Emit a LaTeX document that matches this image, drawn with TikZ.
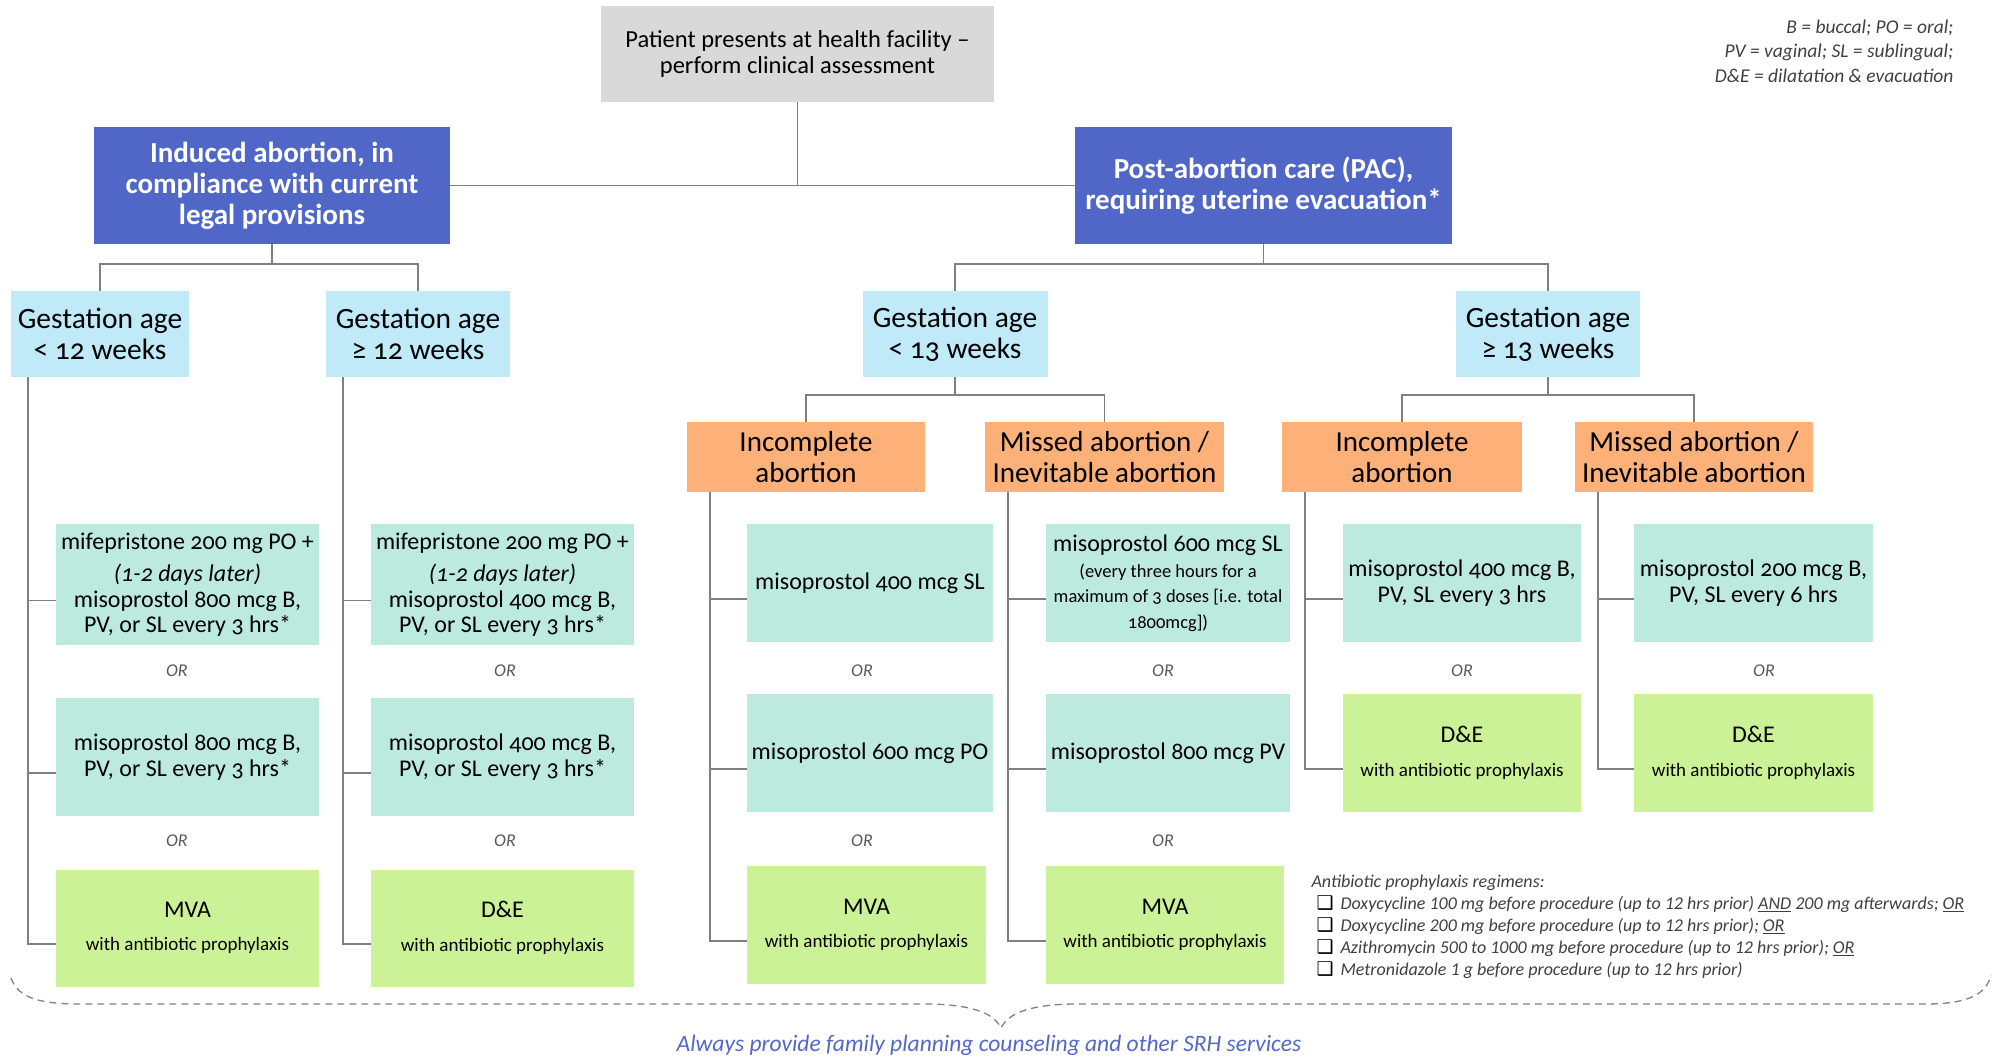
\documentclass[tikz,border=0pt]{standalone}
\usepackage{fontspec}
\setmainfont{Carlito}[Numbers=OldStyle]
\newfontfamily\notefont{Carlito}
\newfontfamily\symfont{DejaVu Sans}
\usetikzlibrary{positioning}

\definecolor{boxgray}{RGB}{217,217,217}
\definecolor{boxblue}{RGB}{80,103,200}
\definecolor{ageblue}{RGB}{192,234,248}
\definecolor{typeorange}{RGB}{253,177,121}
\definecolor{drugteal}{RGB}{189,234,222}
\definecolor{surggreen}{RGB}{204,242,152}
\definecolor{linegray}{RGB}{128,128,128}
\definecolor{orgray}{RGB}{89,89,89}
\definecolor{notegray}{RGB}{64,64,64}
\definecolor{footblue}{RGB}{82,104,200}

\newcommand{\prophy}{{\fontsize{19}{21}\selectfont with antibiotic prophylaxis}}
\newcommand{\smallnote}{\fontsize{18.5}{20.5}\selectfont}
\newcommand{\abx}{\makebox[29pt][l]{\hspace{5pt}{\symfont\fontsize{19}{19}\selectfont\color{black}❑}}}

\begin{document}
\begin{tikzpicture}[x=1pt, y=-1pt,
    conn/.style={draw=linegray, line width=1.8pt},
    box/.style={inner sep=0pt, align=center},
    patientbox/.style={box, fill=boxgray, font=\fontsize{24.5}{26.5}\selectfont},
    mainbox/.style={box, fill=boxblue, text=white, minimum height=117pt, font=\bfseries\fontsize{29}{31}\selectfont},
    agebox/.style={box, fill=ageblue, minimum height=86pt, font=\fontsize{29.5}{31}\selectfont},
    typebox/.style={box, fill=typeorange, minimum height=70pt, font=\fontsize{29}{30.5}\selectfont},
    drugbox/.style={box, fill=drugteal, minimum height=118pt, font=\fontsize{24}{25.5}\selectfont},
    surgbox/.style={box, fill=surggreen, minimum height=118pt, font=\fontsize{24}{25.5}\selectfont},
    ortext/.style={font=\notefont\itshape\fontsize{18}{20}\selectfont, text=orgray},
    notetext/.style={font=\notefont\itshape\fontsize{19.5}{24.5}\selectfont, text=notegray},
    brace/.style={draw=linegray, line width=1.3pt, dash pattern=on 7pt off 5pt}]
    \useasboundingbox (0,0) rectangle (1997,1058);

    % Top of the tree
    \node[patientbox, minimum width=393pt, minimum height=96pt] (patient) at (797.5,54) {Patient presents at health facility --\\perform clinical assessment};
    \node[mainbox, minimum width=356pt] (induced) at (272,185.5) {Induced abortion, in\\compliance with current\\legal provisions};
    \node[mainbox, minimum width=377pt] (pac) at (1263.5,185.5) {Post-abortion care (PAC),\\requiring uterine evacuation*};

    % Gestation age
    \node[agebox, minimum width=178pt] (ga1) at (100,334) {Gestation age\\< 12 weeks};
    \node[agebox, minimum width=184pt] (ga2) at (418,334) {Gestation age\\≥ 12 weeks};
    \node[agebox, minimum width=185pt] (ga3) at (955,334) {Gestation age\\< 13 weeks};
    \node[agebox, minimum width=184pt] (ga4) at (1548,334) {Gestation age\\≥ 13 weeks};

    % Type of abortion
    \node[typebox, minimum width=238pt] (inc1) at (806,457) {Incomplete\\abortion};
    \node[typebox, minimum width=239pt] (mis1) at (1104.5,457) {Missed abortion /\\Inevitable abortion};
    \node[typebox, minimum width=240pt] (inc2) at (1402,457) {Incomplete\\abortion};
    \node[typebox, minimum width=238pt] (mis2) at (1694,457) {Missed abortion /\\Inevitable abortion};

    % Induced abortion options
    \node[drugbox, minimum width=263pt, minimum height=121pt] (a1) at (187.5,584.5) {mifepristone 200 mg PO +\\[7pt]\textit{(1-2 days later)}\\misoprostol 800 mcg B,\\PV, or SL every 3 hrs*};
    \node[drugbox, minimum width=263pt, minimum height=121pt] (b1) at (502.5,584.5) {mifepristone 200 mg PO +\\[7pt]\textit{(1-2 days later)}\\misoprostol 400 mcg B,\\PV, or SL every 3 hrs*};
    \node[drugbox, minimum width=263pt] (a2) at (187.5,757) {misoprostol 800 mcg B,\\PV, or SL every 3 hrs*};
    \node[drugbox, minimum width=263pt] (b2) at (502.5,757) {misoprostol 400 mcg B,\\PV, or SL every 3 hrs*};
    \node[surgbox, minimum width=263pt, minimum height=117pt] (a3) at (187.5,928) {MVA\\[8pt]\prophy};
    \node[surgbox, minimum width=263pt, minimum height=117pt] (b3) at (502.5,928) {D\&E\\[8pt]\prophy};

    % PAC options
    \node[drugbox, minimum width=246pt] (c1) at (870,583) {misoprostol 400 mcg SL};
    \node[drugbox, minimum width=244pt] (d1) at (1168,583) {misoprostol 600 mcg SL\\\smallnote (every three hours for a\\\smallnote maximum of 3 doses [i.e. total\\\smallnote 1800mcg])};
    \node[drugbox, minimum width=246pt] (c2) at (870,753) {misoprostol 600 mcg PO};
    \node[drugbox, minimum width=244pt] (d2) at (1168,753) {misoprostol 800 mcg PV};
    \node[surgbox, minimum width=239pt] (c3) at (866.5,925) {MVA\\[8pt]\prophy};
    \node[surgbox, minimum width=238pt] (d3) at (1165,925) {MVA\\[8pt]\prophy};
    \node[drugbox, minimum width=238pt] (e1) at (1462,583) {misoprostol 400 mcg B,\\PV, SL every 3 hrs};
    \node[drugbox, minimum width=239pt] (f1) at (1753.5,583) {misoprostol 200 mcg B,\\PV, SL every 6 hrs};
    \node[surgbox, minimum width=238pt] (e2) at (1462,753) {D\&E\\[8pt]\prophy};
    \node[surgbox, minimum width=239pt] (f2) at (1753.5,753) {D\&E\\[8pt]\prophy};

    % OR labels
    \foreach \x [count=\i] in {177,505,862,1163,1462,1764}
        \node[ortext] (ortop\i) at (\x,671) {OR};
    \foreach \x [count=\i] in {177,505,862,1163}
        \node[ortext] (orlow\i) at (\x,841) {OR};

    % Lines
    \draw[conn] (induced.east) -- (pac.west);
    \draw[conn] (patient.south) -- (patient.south |- induced.east);
    \draw[conn] (induced.south) -- ++(0,20) -| (ga1.north);
    \draw[conn] (induced.south) -- ++(0,20) -| (ga2.north);
    \draw[conn] (pac.south) -- ++(0,20) -| (ga3.north);
    \draw[conn] (pac.south) -- ++(0,20) -| (ga4.north);
    \draw[conn] (ga3.south) -- ++(0,18) -| (inc1.north);
    \draw[conn] (ga3.south) -- ++(0,18) -| (mis1.north);
    \draw[conn] (ga4.south) -- ++(0,18) -| (inc2.north);
    \draw[conn] (ga4.south) -- ++(0,18) -| (mis2.north);
    \foreach \p/\c/\s in {ga1/a/17, ga2/b/17, inc1/c/23, mis1/d/23}
        \foreach \r in {1,2,3}
            \draw[conn] ([xshift=\s pt]\p.south west) |- ([yshift=-16pt]\c\r.west);
    \foreach \p/\c in {inc2/e, mis2/f}
        \foreach \r in {1,2}
            \draw[conn] ([xshift=23pt]\p.south west) |- ([yshift=-16pt]\c\r.west);

    % Notes
    \node[notetext, align=right, anchor=east] (abbrev) at (1957,51) {B = buccal; PO = oral;\\PV = vaginal; SL = sublingual;\\D\&E = dilatation \& evacuation};
    \node[notetext, align=left, anchor=west, font=\notefont\itshape\fontsize{18}{22}\selectfont] (regimens) at (1308,927) {Antibiotic prophylaxis regimens:\\
        \abx Doxycycline 100 mg before procedure (up to 12 hrs prior) \underline{AND} 200 mg afterwards; \underline{OR}\\
        \abx Doxycycline 200 mg before procedure (up to 12 hrs prior); \underline{OR}\\
        \abx Azithromycin 500 to 1000 mg before procedure (up to 12 hrs prior); \underline{OR}\\
        \abx Metronidazole 1 g before procedure (up to 12 hrs prior)};

    % Brace and footer
    \draw[brace] (11,978) .. controls (18,998) and (40,1004) .. (80,1004) -- (930,1004)
        .. controls (975,1005) and (994,1014) .. (1001,1028)
        .. controls (1008,1014) and (1027,1005) .. (1072,1004) -- (1925,1004)
        .. controls (1965,1004) and (1986,996) .. (1991,975);
    \node[font=\notefont\itshape\fontsize{23.5}{26}\selectfont, text=footblue] (always) at (989,1045) {Always provide family planning counseling and other SRH services};
\end{tikzpicture}
\end{document}
